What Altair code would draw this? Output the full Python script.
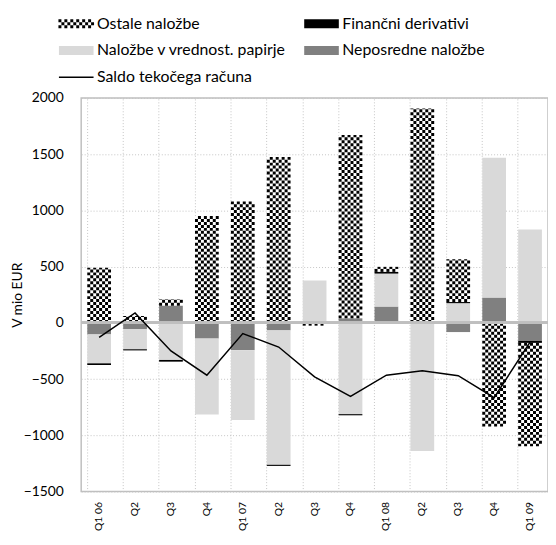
import json
import altair as alt
import pandas as pd

categories = ["Q1 06", "Q2", "Q3", "Q4", "Q1 07", "Q2", "Q3", "Q4", "Q1 08", "Q2", "Q3", "Q4", "Q1 09"]
ostale = [490, 60, 58, 950, 1080, 1475, -20, 1630, 45, 1905, 380, -921, -920]
derivativi = [-15, -10, -15, 0, 0, -10, -5, -10, 15, 0, 10, 0, -18]
vrednostni = [-257, -180, -330, -675, -620, -1195, 377, -812, 293, -1130, 175, 1242, 830]
neposredne = [-103, -55, 152, -140, -243, -67, 0, 40, 145, -10, -82, 225, -160]
saldo = [-130, 88, -250, -465, -95, -215, -480, -655, -465, -425, -470, -665, -172]

series_names = ["Ostale naložbe", "Finančni derivativi", "Naložbe v vrednost. papirje", "Neposredne naložbe"]
line_name = "Saldo tekočega računa"
series_colors = ["#000000", "#000000", "#d9d9d9", "#808080"]

FONT = "Lato"
W, H = 472, 398

# stacked segments (positives and negatives stacked separately)
stack_order = [(series_names[3], neposredne), (series_names[2], vrednostni),
               (series_names[1], derivativi), (series_names[0], ostale)]
rows = []
for i in range(len(categories)):
    pos, neg = 0, 0
    for name, vals in stack_order:
        v = vals[i]
        if v >= 0:
            y0, pos = pos, pos + v
            y1 = pos
        else:
            y0, neg = neg, neg + v
            y1 = neg
        rows.append({"k": i, "series": name, "y0": y0, "y1": y1})
seg = pd.DataFrame(rows)
solid = seg[seg.series != series_names[0]]
chk = seg[seg.series == series_names[0]]
line_df = pd.DataFrame({"k": list(range(len(categories))), "saldo": saldo})

keys = list(range(len(categories)))
xscale = alt.Scale(domain=keys, paddingInner=0.34, paddingOuter=0.17)
yscale = alt.Scale(domain=[-1500, 2000], nice=False)
yaxis = alt.Axis(values=list(range(-1500, 2001, 500)), format="d", ticks=False, domain=False,
                 grid=True, gridDash=[1, 2], gridColor="#c4c4c4", labelPadding=18,
                 labelFontSize=14, labelFont=FONT, labelColor="#000",
                 title="V mio EUR", titleFont=FONT, titleFontSize=14,
                 titleFontWeight="normal", titleColor="#000", titleX=-57)
bottom_axis = alt.Axis(orient="bottom", labelExpr=json.dumps(categories) + "[datum.value]",
                       labelAngle=270, labelPadding=10, ticks=False, domain=False, grid=False,
                       labelFontSize=10.5, labelFont=FONT, labelColor="#000", title=None)
top_axis = alt.Axis(orient="top", labels=False, ticks=False, domain=False, grid=True,
                    bandPosition=0, gridDash=[1, 2], gridColor="#c4c4c4", title=None)

def Y(field):
    return alt.Y(field, scale=yscale, axis=yaxis)

white = alt.Chart(chk).mark_bar(size=24, color="white").encode(
    x=alt.X("k:O", scale=xscale, axis=top_axis), y=Y("y0:Q"), y2="y1:Q")

bars = alt.Chart(solid).mark_bar(size=24).encode(
    x=alt.X("k:O", scale=xscale, axis=bottom_axis), y=Y("y0:Q"), y2="y1:Q",
    color=alt.Color("series:N", scale=alt.Scale(domain=series_names, range=series_colors), legend=None))

checkers = []
for c in range(8):
    checkers.append(
        alt.Chart(chk).mark_rule(xOffset=-10.5 + 3 * c, strokeWidth=3, strokeDash=[3, 3],
                                 strokeDashOffset=3 * (c % 2), color="black").encode(
            x=alt.X("k:O", scale=xscale, axis=None), y=Y("y0:Q"), y2="y1:Q"))

zero = alt.Chart(line_df).mark_rule(color="#bfbfbf", strokeWidth=2).encode(y=alt.datum(0))

line = alt.Chart(line_df).mark_line(color="black", strokeWidth=1.5).encode(
    x=alt.X("k:O", scale=xscale, axis=None), y=Y("saldo:Q"))

main = alt.layer(white, bars, *checkers, zero, line).resolve_axis(x="independent")

# legend (drawn above the plot area through its own scales)
def checker_path(ncols=12, nrows=3, cell=3.0):
    half = ncols * cell / 2.0
    parts = []
    for r in range(nrows):
        for c in range(ncols):
            if (r + c) % 2 == 0:
                x0 = (-half + c * cell) / half
                y0 = (-nrows * cell / 2.0 + r * cell) / half
                s = cell / half
                parts.append(f"M{x0:.4f},{y0:.4f}h{s:.4f}v{s:.4f}h{-s:.4f}Z")
    return "".join(parts)

rect_path = "M-1,-0.257H1V0.257H-1Z"
leg = pd.DataFrame({
    "label": series_names,
    "col": [0, 1, 0, 1],
    "row": [0, 0, 1, 1],
    "shape": [checker_path(), rect_path, rect_path, rect_path],
    "fill": series_colors,
    "size": [1296, 1225, 1225, 1225],
})
leg_line = pd.DataFrame({"label": [line_name], "col": [0], "row": [2]})
lx = alt.Scale(domain=[0, 1], range=[-5, 243])
ly = alt.Scale(domain=[0, 2], range=[-75, -21])
LX = alt.X("col:Q", scale=lx, axis=None)
LY = alt.Y("row:Q", scale=ly, axis=None)

sw = alt.Chart(leg).mark_point(filled=True, opacity=1).encode(
    x=LX, y=LY, shape=alt.Shape("shape:N", scale=None), fill=alt.Fill("fill:N", scale=None),
    size=alt.Size("size:Q", scale=None))
swl = alt.Chart(leg_line).mark_point(shape="M-1,0H1", filled=False, opacity=1, size=1225,
                                     color="black", strokeWidth=1.5).encode(x=LX, y=LY)
txt_df = pd.concat([leg[["label", "col", "row"]], leg_line])
txt = alt.Chart(txt_df).mark_text(align="left", baseline="middle", dx=21, font=FONT,
                                   fontSize=16, color="#000").encode(x=LX, y=LY, text="label:N")
legend = alt.layer(sw, swl, txt)

chart = alt.layer(main, legend).resolve_scale(x="independent", y="independent").properties(
    width=W, height=H,
    autosize=alt.AutoSizeParams(type="none"),
    padding={"left": 74, "top": 88, "right": 0, "bottom": 39},
    view=alt.ViewBackground(stroke="#bfbfbf", strokeWidth=1.5),
)

chart.save("out.html", embed_options={"renderer": "svg", "actions": False})
